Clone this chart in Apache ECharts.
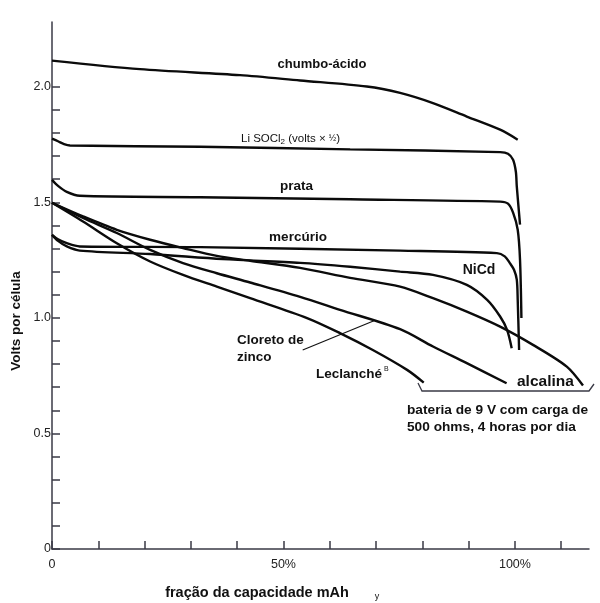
<!DOCTYPE html>
<html>
<head>
<meta charset="utf-8">
<script src="https://cdn.jsdelivr.net/npm/echarts@6/dist/echarts.min.js"></script>
<style>
html,body{margin:0;padding:0;background:#fff;}
#c{width:600px;height:603px;}
</style>
</head>
<body>
<div id="c"></div>
<script>
// ---- data (x = % of mAh capacity, y = volts per cell) ----
const chumboX   = [0, 19.0, 40.6, 53.6, 68.0, 75.2, 82.3, 89.6, 96.8, 100.6];
const chumboV   = [2.113, 2.076, 2.050, 2.027, 2.001, 1.973, 1.929, 1.871, 1.814, 1.771];

const liX       = [0, 1.3, 2.6, 3.9, 32, 64.4, 96.8, 98.5, 99.6, 100.2, 100.4, 101.1];
const liV       = [1.775, 1.764, 1.752, 1.746, 1.740, 1.729, 1.717, 1.710, 1.684, 1.632, 1.569, 1.403];

const prataX    = [0, 1.3, 3.2, 6.0, 32, 64.4, 96.8, 98.5, 99.6, 100.6, 101.1, 101.4];
const prataV    = [1.597, 1.571, 1.545, 1.528, 1.522, 1.513, 1.503, 1.494, 1.455, 1.381, 1.251, 0.999];

const mercurioX = [0, 1.3, 3.2, 6.0, 32, 75.2, 96.1, 97.8, 98.9, 99.8, 100.4, 100.6, 100.9];
const mercurioV = [1.359, 1.340, 1.323, 1.309, 1.306, 1.291, 1.280, 1.266, 1.237, 1.208, 1.165, 1.078, 0.861];

const nicdX     = [0, 1.3, 3.2, 6.0, 21.2, 36.9, 53.6, 64.4, 75.2, 82.3, 89.6, 94.0, 96.8, 98.3, 99.3];
const nicdV     = [1.359, 1.333, 1.309, 1.291, 1.276, 1.254, 1.238, 1.221, 1.200, 1.186, 1.143, 1.078, 1.006, 0.948, 0.869];

const alcalinaX = [0, 6.7, 14.0, 21.2, 28.3, 35.6, 42.8, 53.6, 64.4, 75.2, 82.3, 89.6, 96.8, 103.9, 111.2, 114.7];
const alcalinaV = [1.498, 1.439, 1.381, 1.338, 1.302, 1.268, 1.247, 1.216, 1.173, 1.135, 1.085, 1.027, 0.962, 0.883, 0.789, 0.707];

const zincoX    = [0, 6.7, 14.0, 21.2, 28.3, 35.6, 42.8, 53.6, 62.2, 75.2, 82.3, 89.6, 98.2];
const zincoV    = [1.498, 1.432, 1.367, 1.294, 1.237, 1.193, 1.153, 1.091, 1.035, 0.951, 0.876, 0.804, 0.717];

const leclancheX = [0, 6.7, 14.0, 21.2, 28.3, 35.6, 42.8, 55.1, 62.2, 69.3, 76.7, 80.3];
const leclancheV = [1.498, 1.417, 1.323, 1.244, 1.186, 1.135, 1.085, 0.999, 0.934, 0.861, 0.775, 0.720];

const xTicks  = [0, 10, 20, 30, 40, 50, 60, 70, 80, 90, 100, 110];
const xLabels = [0, 50, 100];
const yTicks  = [0, 0.1, 0.2, 0.3, 0.4, 0.5, 0.6, 0.7, 0.8, 0.9, 1.0, 1.1, 1.2, 1.3, 1.4, 1.5, 1.6, 1.7, 1.8, 1.9, 2.0];
const yLabels = [0, 0.5, 1.0, 1.5, 2.0];

// ---- build ----
function zip(xs, ys) { return xs.map((x, i) => [x, ys[i]]); }
const seriesList = [
  ['chumbo-ácido', chumboX, chumboV],
  ['Li SOCl2', liX, liV],
  ['prata', prataX, prataV],
  ['mercúrio', mercurioX, mercurioV],
  ['NiCd', nicdX, nicdV],
  ['alcalina', alcalinaX, alcalinaV],
  ['Cloreto de zinco', zincoX, zincoV],
  ['Leclanché', leclancheX, leclancheV]
];

const FONT = '"Liberation Sans", Arial, sans-serif';
const INK = '#111';
const AX = '#3a3a46';

function txt(x, y, text, opts) {
  opts = opts || {};
  return {
    type: 'text', x: x, y: y, silent: true,
    rotation: opts.rotation || 0,
    style: Object.assign({
      text: text, fill: INK, font: (opts.weight || 'bold') + ' ' + (opts.size || 13.5) + 'px ' + FONT,
      textAlign: opts.align || 'left', textVerticalAlign: 'middle'
    }, opts.style || {})
  };
}

const chart = echarts.init(document.getElementById('c'), null, { renderer: 'canvas' });
chart.setOption({
  animation: false,
  backgroundColor: '#fff',
  grid: { left: 52, top: 22, width: 537, height: 527 },
  xAxis: {
    type: 'value', min: 0, max: 116,
    splitLine: { show: false },
    axisLine: { show: true, onZero: false, lineStyle: { color: AX, width: 1.5 } },
    axisTick: { show: true, inside: true, length: 8, customValues: xTicks, lineStyle: { color: AX, width: 1.5 } },
    axisLabel: {
      customValues: xLabels, margin: 9, color: '#222', fontSize: 12.5, fontFamily: FONT,
      formatter: v => (v === 0 ? '0' : v + '%')
    }
  },
  yAxis: {
    type: 'value', min: 0, max: 2.28,
    splitLine: { show: false },
    axisLine: { show: true, lineStyle: { color: AX, width: 1.5 } },
    axisTick: { show: true, inside: true, length: 8, customValues: yTicks, lineStyle: { color: AX, width: 1.5 } },
    axisLabel: {
      customValues: yLabels, margin: 1, color: '#222', fontSize: 12.5, fontFamily: FONT,
      formatter: v => (v === 0 ? '0' : v.toFixed(1))
    }
  },
  series: seriesList.map(s => ({
    name: s[0], type: 'line', data: zip(s[1], s[2]),
    showSymbol: false, smooth: 0.3,
    lineStyle: { color: '#0b0b0b', width: 2.4 },
    silent: true
  })),
  graphic: [
    txt(322, 64, 'chumbo-ácido', { align: 'center', size: 13 }),
    {
      type: 'text', x: 241, y: 139, silent: true,
      style: {
        text: '{a|Li SOCl}{s|2}{a| (volts × }{f|½}{a|)}',
        textVerticalAlign: 'middle',
        rich: {
          a: { fontSize: 11.5, fontFamily: FONT, fill: INK },
          s: { fontSize: 8, fontFamily: FONT, fill: INK, padding: [6, 0, 0, 0] },
          f: { fontSize: 9, fontFamily: FONT, fill: INK }
        }
      }
    },
    txt(296.5, 186, 'prata', { align: 'center' }),
    txt(298, 237, 'mercúrio', { align: 'center' }),
    txt(479, 270, 'NiCd', { align: 'center', size: 14 }),
    txt(237, 340, 'Cloreto de', {}),
    txt(237, 357, 'zinco', {}),
    txt(316, 374, 'Leclanché', {}),
    txt(384, 369, 'B', { size: 7, weight: 'normal' }),
    txt(517, 382, 'alcalina', { size: 15.5 }),
    txt(407, 410, 'bateria de 9 V com carga de', { size: 13.7 }),
    txt(407, 427, '500 ohms, 4 horas por dia', { size: 13.7 }),
    txt(16, 321, 'Volts por célula', { align: 'center', rotation: Math.PI / 2 }),
    txt(257, 593, 'fração da capacidade mAh', { align: 'center', size: 14.5 }),
    txt(377, 597, 'y', { align: 'center', size: 9, weight: 'normal' }),
    {
      type: 'line', silent: true,
      shape: { x1: 302.7, y1: 350, x2: 374, y2: 320.7 },
      style: { stroke: INK, lineWidth: 1.1 }
    },
    {
      type: 'polyline', silent: true,
      shape: { points: [[418, 383], [422, 391], [589, 391], [594, 384]] },
      style: { stroke: AX, lineWidth: 1.3, fill: null }
    }
  ]
});
</script>
</body>
</html>
